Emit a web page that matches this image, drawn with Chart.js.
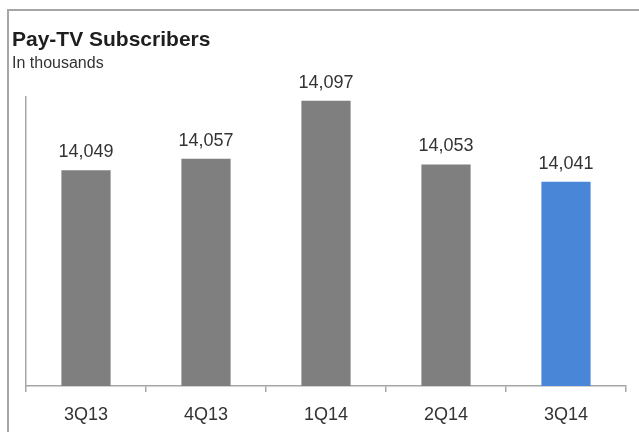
<!DOCTYPE html>
<html>
<head>
<meta charset="utf-8">
<script src="https://cdn.jsdelivr.net/npm/chart.js@4/dist/chart.umd.min.js"></script>
<style>
  html, body { margin: 0; padding: 0; background: #ffffff; }
  #wrap { position: relative; width: 639px; height: 432px; overflow: hidden; }
  #frame {
    position: absolute; left: 7px; top: 9px; right: -10px; bottom: -10px;
    border-top: 2px solid #a6a6a6; border-left: 2px solid #a6a6a6;
  }
  canvas { position: absolute; left: 0; top: 0; }
</style>
</head>
<body>
<div id="wrap">
  <div id="frame"></div>
  <canvas id="chart" width="639" height="432"></canvas>
</div>
<script>
// Quarterly pay-TV subscriber counts, in thousands
const quarters = ['3Q13', '4Q13', '1Q14', '2Q14', '3Q14'];
const subscribers = [14049, 14057, 14097, 14053, 14041];
const barColors = ['#7f7f7f', '#7f7f7f', '#7f7f7f', '#7f7f7f', '#4a86d8'];
const axisRange = { min: 13900, max: 14100 };

const FONT = "'Liberation Sans', Arial, sans-serif";

// Writes each bar's value above it
const valueLabels = {
  id: 'valueLabels',
  afterDatasetsDraw(chart) {
    const ctx = chart.ctx;
    const meta = chart.getDatasetMeta(0);
    ctx.save();
    ctx.font = '18px ' + FONT;
    ctx.fillStyle = '#333333';
    ctx.textAlign = 'center';
    ctx.textBaseline = 'alphabetic';
    meta.data.forEach((bar, i) => {
      const v = chart.data.datasets[0].data[i];
      ctx.fillText(v.toLocaleString('en-US'), bar.x, bar.y - 13);
    });
    ctx.restore();
  }
};

new Chart(document.getElementById('chart'), {
  type: 'bar',
  data: {
    labels: quarters,
    datasets: [{
      data: subscribers,
      backgroundColor: barColors,
      borderWidth: 0,
      categoryPercentage: 1,
      barPercentage: 0.41
    }]
  },
  options: {
    responsive: false,
    animation: false,
    events: [],
    layout: { padding: { left: 12, right: 13, top: 0, bottom: 0 } },
    plugins: {
      legend: { display: false },
      tooltip: { enabled: false },
      title: {
        display: true,
        text: 'Pay-TV Subscribers',
        align: 'start',
        color: '#1e1e1e',
        font: { family: FONT, size: 21, weight: 'bold' },
        padding: { top: 28, bottom: 0 }
      },
      subtitle: {
        display: true,
        text: 'In thousands',
        align: 'start',
        color: '#333333',
        font: { family: FONT, size: 16 },
        padding: { top: 1, bottom: 23 }
      }
    },
    scales: {
      x: {
        grid: {
          display: true,
          drawOnChartArea: false,
          drawTicks: true,
          tickLength: 6,
          color: '#a6a6a6',
          lineWidth: 1.5
        },
        border: { display: true, color: '#a6a6a6', width: 1.5 },
        ticks: {
          color: '#333333',
          font: { family: FONT, size: 18 },
          padding: 12,
          maxRotation: 0
        },
        afterFit(scale) { scale.height = 46; }
      },
      y: {
        min: axisRange.min,
        max: axisRange.max,
        grid: { display: false, drawTicks: false },
        border: { display: true, color: '#a6a6a6', width: 1.5 },
        ticks: { display: false },
        afterFit(scale) { scale.width = 14; }
      }
    }
  },
  plugins: [valueLabels]
});
</script>
</body>
</html>
